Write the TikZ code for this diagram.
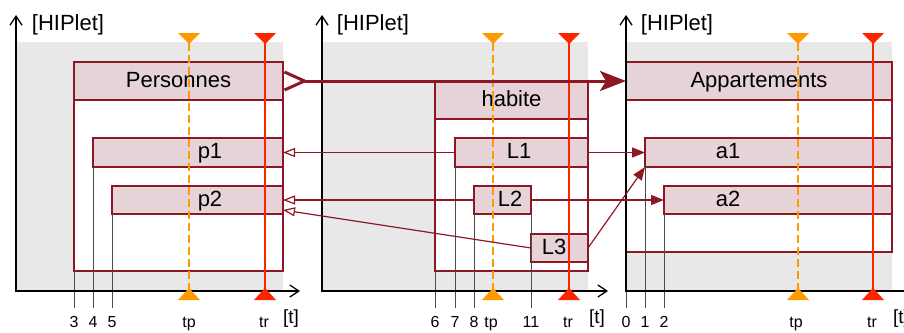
\documentclass[tikz,border=0pt]{standalone}
\usepackage{fontspec}
\setmainfont{Liberation Sans}
\usetikzlibrary{arrows.meta}

\definecolor{darkred}{RGB}{140,24,38}
\definecolor{rose}{RGB}{230,211,215}
\definecolor{bggray}{RGB}{232,232,232}
\definecolor{tpcol}{RGB}{255,153,0}
\definecolor{trcol}{RGB}{255,36,0}

\tikzset{
  rbox/.style={draw=darkred, line width=1.4pt, fill=rose, anchor=north west,
    inner sep=0pt, outer sep=0pt, text height=16pt, text depth=4pt,
    font=\fontsize{22}{26}\selectfont},
  wbox/.style={rbox, fill=white},
  sz/.style 2 args={minimum width=#1pt, minimum height=#2pt},
  lbl/.style={font=\fontsize{22}{26}\selectfont, text height=16pt, text depth=4pt, inner sep=0pt},
  ticklbl/.style={font=\fontsize{16}{18}\selectfont, anchor=base, inner sep=0pt},
  axisline/.style={line width=1.3pt,
    {Straight Barb[length=9pt,width=12pt]}-{Straight Barb[length=9pt,width=12pt]}},
  drop/.style={black!70, line width=0.7pt},
  tpline/.style={tpcol, line width=1.5pt, dash pattern=on 8pt off 4pt},
  trline/.style={trcol, line width=1.5pt},
  toP/.style={darkred, line width=1.2pt, -{Triangle[open,length=12pt,width=9pt]}},
  toA/.style={darkred, line width=1.2pt, -{Triangle[length=13pt,width=10pt]}},
}

\begin{document}
\begin{tikzpicture}[x=1pt,y=-1pt]
    \clip (0,0) rectangle (904,332);

    % grey fields of the three diagrams
    \fill[bggray] (17,42) rectangle (283,291);
    \fill[bggray] (322,42) rectangle (588,291);
    \fill[bggray] (626,42) rectangle (892,291);

    % Personnes and its objects
    \node[wbox, sz={209}{209}] (pers) at (74,62) {};
    \node[rbox, sz={209}{38}] (persH) at (74,62) {Personnes};
    \node[rbox, sz={190}{29}] (p1) at (93,138) {};
    \node[rbox, sz={171}{28}] (p2) at (112,186) {};

    % habite and its links
    \node[wbox, sz={153}{189}] (hab) at (435,82) {};
    \node[rbox, sz={153}{37}] (habH) at (435,82) {habite};
    \node[rbox, sz={133}{29}] (L1) at (455,138) {};
    \node[rbox, sz={57}{28}] (L2) at (474,186) {};
    \node[rbox, sz={57}{28}] (L3) at (531,234) {};

    % Appartements and its objects
    \node[wbox, sz={266}{190}] (app) at (626,62) {};
    \node[rbox, sz={266}{38}] (appH) at (626,62) {Appartements};
    \node[rbox, sz={247}{29}] (a1) at (645,138) {};
    \node[rbox, sz={228}{28}] (a2) at (664,186) {};

    % start times down to the t axis
    \foreach \c in {pers.south west, p1.south west, p2.south west,
                    hab.south west, L1.south west, L2.south west, L2.south east,
                    app.south west, a1.south west, a2.south west}
      \draw[drop] (\c) -- (\c |- 0,308);

    % axes
    \foreach \ox/\ex in {16/300, 322/608, 626/918}
      \draw[axisline] (\ox,15) -- (\ox,291) -- (\ex,291);

    % tp and tr
    \foreach \x/\st in {189/tpline, 265/trline, 493/tpline, 569/trline, 798/tpline, 873/trline} {
      \draw[\st] (\x,43) -- (\x,289);
      \fill[\st] (\x-11,33) -- (\x+11,33) -- (\x,44) -- cycle;
      \fill[\st] (\x-11,300) -- (\x+11,300) -- (\x,288) -- cycle;
    }

    % links
    \draw[darkred, line width=3pt,
      {Straight Barb[reversed,length=20pt,width=18pt]}-{Stealth[length=26pt,width=20pt,inset=6pt]}]
      (persH.east) -- (appH.west);
    \draw[toP] (L1.west) -- (p1.east);
    \draw[toP] (L2.west) -- (p2.east);
    \draw[toP] (L3.west) -- ([yshift=-10pt]p2.east);
    \draw[toA] (L1.east) -- (a1.west);
    \draw[toA] (L2.east) -- (a2.west);
    \draw[toA] (L3.east) -- (a1.south west);

    \node[lbl] (tP1) at (210,152) {p1};
    \node[lbl] (tP2) at (210,200) {p2};
    \node[lbl] (tL1) at (519,152) {L1};
    \node[lbl] (tL2) at (510,200) {L2};
    \node[lbl] (tL3) at (554,248) {L3};
    \node[lbl] (tA1) at (728,152) {a1};
    \node[lbl] (tA2) at (728,200) {a2};

    \foreach \x/\n in {68/1, 373/2, 677/3}
      \node[lbl] (yl\n) at (\x,24) {[HIPlet]};
    \foreach \x/\t in {74/3, 93/4, 112/5, 189/tp, 264/tr,
                       435/6, 455/7, 474/8, 491/tp, 531/11, 568/tr,
                       626/0, 645/1, 664/2, 796/tp, 872/tr}
      \node[ticklbl] (k\x) at (\x,327) {\t};
    \foreach \x in {291, 597, 901}
      \node[ticklbl, font=\fontsize{19}{22}\selectfont] (xl\x) at (\x,323) {[t]};
\end{tikzpicture}
\end{document}
